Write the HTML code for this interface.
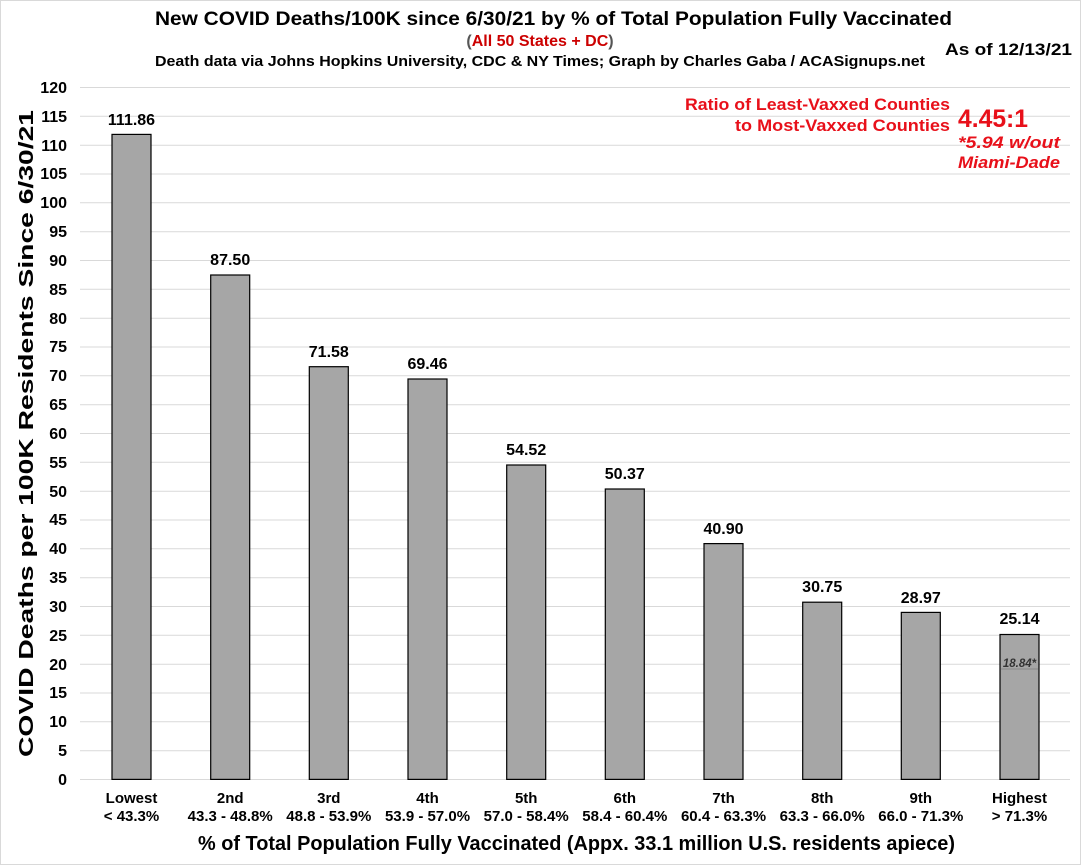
<!DOCTYPE html>
<html><head><style>body{margin:0;background:#fff}svg{display:block}</style></head><body>
<svg width="1081" height="865" viewBox="0 0 1081 865" xmlns="http://www.w3.org/2000/svg" font-family="Liberation Sans, Arial, sans-serif">
<rect x="0.5" y="0.5" width="1080" height="864" fill="#fff" stroke="#d9d9d9"/>
<g stroke="#d9d9d9" stroke-width="1">
<line x1="80" x2="1070" y1="779.5" y2="779.5"/><line x1="80" x2="1070" y1="750.7" y2="750.7"/><line x1="80" x2="1070" y1="721.8" y2="721.8"/><line x1="80" x2="1070" y1="693" y2="693"/><line x1="80" x2="1070" y1="664.2" y2="664.2"/><line x1="80" x2="1070" y1="635.3" y2="635.3"/><line x1="80" x2="1070" y1="606.5" y2="606.5"/><line x1="80" x2="1070" y1="577.7" y2="577.7"/><line x1="80" x2="1070" y1="548.8" y2="548.8"/><line x1="80" x2="1070" y1="520" y2="520"/><line x1="80" x2="1070" y1="491.2" y2="491.2"/><line x1="80" x2="1070" y1="462.3" y2="462.3"/><line x1="80" x2="1070" y1="433.5" y2="433.5"/><line x1="80" x2="1070" y1="404.7" y2="404.7"/><line x1="80" x2="1070" y1="375.8" y2="375.8"/><line x1="80" x2="1070" y1="347" y2="347"/><line x1="80" x2="1070" y1="318.2" y2="318.2"/><line x1="80" x2="1070" y1="289.3" y2="289.3"/><line x1="80" x2="1070" y1="260.5" y2="260.5"/><line x1="80" x2="1070" y1="231.7" y2="231.7"/><line x1="80" x2="1070" y1="202.8" y2="202.8"/><line x1="80" x2="1070" y1="174" y2="174"/><line x1="80" x2="1070" y1="145.2" y2="145.2"/><line x1="80" x2="1070" y1="116.3" y2="116.3"/><line x1="80" x2="1070" y1="87.5" y2="87.5"/>
</g>
<g font-size="16" font-weight="bold" text-anchor="end" fill="#000">
<text x="67" y="785">0</text><text x="67" y="756">5</text><text x="67" y="727">10</text><text x="67" y="698">15</text><text x="67" y="670">20</text><text x="67" y="641">25</text><text x="67" y="612">30</text><text x="67" y="583">35</text><text x="67" y="554">40</text><text x="67" y="525">45</text><text x="67" y="497">50</text><text x="67" y="468">55</text><text x="67" y="439">60</text><text x="67" y="410">65</text><text x="67" y="381">70</text><text x="67" y="352">75</text><text x="67" y="324">80</text><text x="67" y="295">85</text><text x="67" y="266">90</text><text x="67" y="237">95</text><text x="67" y="208">100</text><text x="67" y="179">105</text><text x="67" y="151">110</text><text x="67" y="122">115</text><text x="67" y="93">120</text>
</g>
<g fill="#a6a6a6" stroke="#000" stroke-width="1.2">
<rect x="112" y="134.4" width="39" height="645"/>
<rect x="210.7" y="275" width="39" height="504.4"/>
<rect x="309.3" y="366.7" width="39" height="412.7"/>
<rect x="408" y="379" width="39" height="400.4"/>
<rect x="506.7" y="465" width="39" height="314.4"/>
<rect x="605.3" y="489" width="39" height="290.4"/>
<rect x="704" y="543.6" width="39" height="235.8"/>
<rect x="802.7" y="602.2" width="39" height="177.2"/>
<rect x="901.3" y="612.4" width="39" height="167"/>
<rect x="1000" y="634.5" width="39" height="144.9"/>
</g>
<line x1="1001" x2="1038" y1="669" y2="669" stroke="#888" stroke-width="1"/>
<text x="1019.5" y="667" font-size="11.5" font-style="italic" font-weight="bold" fill="#333" text-anchor="middle">18.84*</text>
<g font-size="16" font-weight="bold" text-anchor="middle" fill="#000">
<text x="131.5" y="125">111.86</text><text x="230.2" y="265">87.50</text><text x="328.8" y="357">71.58</text><text x="427.5" y="369">69.46</text><text x="526.2" y="455">54.52</text><text x="624.8" y="479">50.37</text><text x="723.5" y="534">40.90</text><text x="822.2" y="592">30.75</text><text x="920.8" y="603">28.97</text><text x="1019.5" y="624">25.14</text>
</g>
<g font-size="15" font-weight="bold" text-anchor="middle" fill="#000">
<text x="131.5" y="803">Lowest</text><text x="131.5" y="821">&lt; 43.3%</text>
<text x="230.2" y="803">2nd</text><text x="230.2" y="821">43.3 - 48.8%</text>
<text x="328.8" y="803">3rd</text><text x="328.8" y="821">48.8 - 53.9%</text>
<text x="427.5" y="803">4th</text><text x="427.5" y="821">53.9 - 57.0%</text>
<text x="526.2" y="803">5th</text><text x="526.2" y="821">57.0 - 58.4%</text>
<text x="624.8" y="803">6th</text><text x="624.8" y="821">58.4 - 60.4%</text>
<text x="723.5" y="803">7th</text><text x="723.5" y="821">60.4 - 63.3%</text>
<text x="822.2" y="803">8th</text><text x="822.2" y="821">63.3 - 66.0%</text>
<text x="920.8" y="803">9th</text><text x="920.8" y="821">66.0 - 71.3%</text>
<text x="1019.5" y="803">Highest</text><text x="1019.5" y="821">&gt; 71.3%</text>
</g>
<text x="198" y="850" font-size="20" font-weight="bold" textLength="757" lengthAdjust="spacingAndGlyphs">% of Total Population Fully Vaccinated (Appx. 33.1 million U.S. residents apiece)</text>
<text transform="translate(33,757) rotate(-90)" font-size="20" font-weight="bold" textLength="647" lengthAdjust="spacingAndGlyphs">COVID Deaths per 100K Residents Since 6/30/21</text>
<text x="155" y="25" font-size="19" font-weight="bold" textLength="797" lengthAdjust="spacingAndGlyphs">New COVID Deaths/100K since 6/30/21 by % of Total Population Fully Vaccinated</text>
<text x="540" y="46" font-size="16" font-weight="bold" text-anchor="middle"><tspan fill="#555">(</tspan><tspan fill="#c00">All 50 States + DC</tspan><tspan fill="#555">)</tspan></text>
<text x="155" y="66" font-size="14.5" font-weight="bold" textLength="770" lengthAdjust="spacingAndGlyphs">Death data via Johns Hopkins University, CDC &amp; NY Times; Graph by Charles Gaba / ACASignups.net</text>
<text x="945" y="55" font-size="17" font-weight="bold" textLength="127" lengthAdjust="spacingAndGlyphs">As of 12/13/21</text>
<g fill="#e8101a" font-weight="bold">
<text x="685" y="110" font-size="16.5" textLength="265" lengthAdjust="spacingAndGlyphs">Ratio of Least-Vaxxed Counties</text>
<text x="735" y="131" font-size="16.5" textLength="215" lengthAdjust="spacingAndGlyphs">to Most-Vaxxed Counties</text>
<text x="958" y="127" font-size="25" textLength="70" lengthAdjust="spacingAndGlyphs">4.45:1</text>
<text x="958" y="148" font-size="17" font-style="italic" textLength="102" lengthAdjust="spacingAndGlyphs">*5.94 w/out</text>
<text x="958" y="168" font-size="17" font-style="italic" textLength="102" lengthAdjust="spacingAndGlyphs">Miami-Dade</text>
</g>
</svg>
</body></html>
